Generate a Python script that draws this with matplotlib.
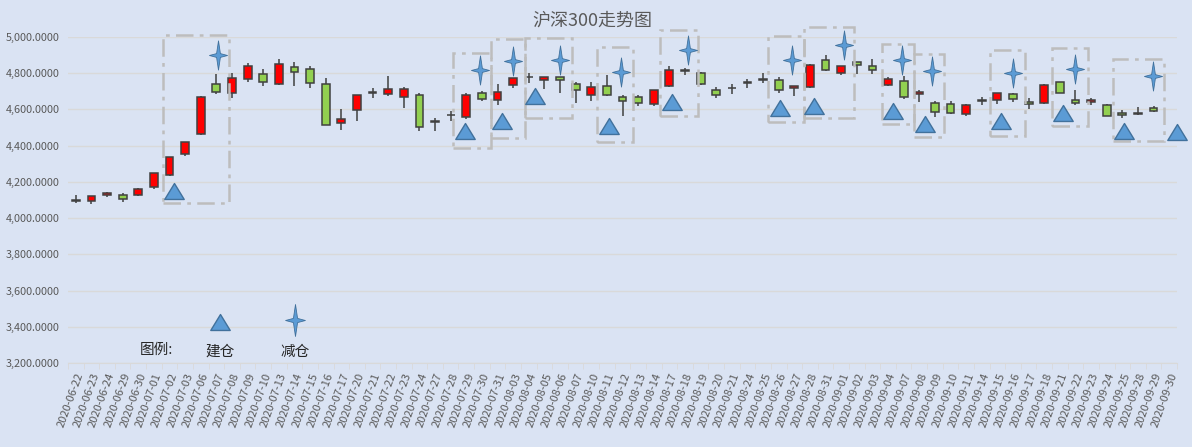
import numpy as np
import matplotlib
matplotlib.use('Agg')
import matplotlib.pyplot as plt
from matplotlib.path import Path
from matplotlib.patches import Rectangle
from matplotlib.ticker import FuncFormatter

plt.rcParams['font.family'] = ['Noto Sans CJK SC', 'DejaVu Sans']

dates = ['2020-06-22', '2020-06-23', '2020-06-24', '2020-06-29', '2020-06-30',
         '2020-07-01', '2020-07-02', '2020-07-03', '2020-07-06', '2020-07-07',
         '2020-07-08', '2020-07-09', '2020-07-10', '2020-07-13', '2020-07-14',
         '2020-07-15', '2020-07-16', '2020-07-17', '2020-07-20', '2020-07-21',
         '2020-07-22', '2020-07-23', '2020-07-24', '2020-07-27', '2020-07-28',
         '2020-07-29', '2020-07-30', '2020-07-31', '2020-08-03', '2020-08-04',
         '2020-08-05', '2020-08-06', '2020-08-07', '2020-08-10', '2020-08-11',
         '2020-08-12', '2020-08-13', '2020-08-14', '2020-08-17', '2020-08-18',
         '2020-08-19', '2020-08-20', '2020-08-21', '2020-08-24', '2020-08-25',
         '2020-08-26', '2020-08-27', '2020-08-28', '2020-08-31', '2020-09-01',
         '2020-09-02', '2020-09-03', '2020-09-04', '2020-09-07', '2020-09-08',
         '2020-09-09', '2020-09-10', '2020-09-11', '2020-09-14', '2020-09-15',
         '2020-09-16', '2020-09-17', '2020-09-18', '2020-09-21', '2020-09-22',
         '2020-09-23', '2020-09-24', '2020-09-25', '2020-09-28', '2020-09-29',
         '2020-09-30']

nan = np.nan
opens = [4097, 4092, 4125, 4126, 4126, 4171, 4237, 4353, 4463, 4739,
         4689, 4766, 4794, 4739, 4833, 4822, 4739, 4524, 4595, 4692,
         4684, 4669, 4678, 4532, 4567, 4557, 4689, 4651, 4733, 4777,
         4763, 4778, 4739, 4680, 4728, 4669, 4669, 4629, 4730, 4811,
         4803, 4706, 4716, 4744, 4765, 4761, 4717, 4724, 4871, 4800,
         4860, 4838, 4733, 4755, 4684, 4634, 4630, 4575, 4648, 4651,
         4684, 4640, 4634, 4750, 4651, 4640, 4623, 4579, 4576, 4606, nan]
highs = [4125, 4122, 4143, 4137, 4169, 4250, 4336, 4420, 4676, 4794,
         4800, 4857, 4823, 4879, 4860, 4838, 4772, 4601, 4680, 4717,
         4787, 4726, 4689, 4555, 4592, 4689, 4702, 4739, 4772, 4803,
         4779, 4781, 4750, 4754, 4789, 4678, 4678, 4706, 4838, 4827,
         4805, 4724, 4739, 4766, 4800, 4781, 4729, 4849, 4901, 4839,
         4861, 4879, 4778, 4787, 4706, 4647, 4645, 4630, 4669, 4689,
         4689, 4662, 4739, 4751, 4706, 4665, 4630, 4597, 4614, 4619, nan]
lows = [4086, 4077, 4119, 4088, 4124, 4158, 4235, 4345, 4460, 4687,
        4665, 4754, 4731, 4737, 4728, 4720, 4512, 4485, 4537, 4665,
        4674, 4606, 4481, 4481, 4537, 4548, 4647, 4625, 4717, 4744,
        4713, 4689, 4634, 4647, 4676, 4562, 4621, 4619, 4722, 4790,
        4737, 4662, 4684, 4717, 4744, 4689, 4676, 4717, 4814, 4790,
        4794, 4798, 4728, 4658, 4641, 4557, 4575, 4564, 4627, 4630,
        4640, 4605, 4630, 4690, 4625, 4625, 4563, 4551, 4570, 4584, nan]
closes = [4098, 4121, 4138, 4108, 4160, 4248, 4336, 4419, 4667, 4695,
          4772, 4838, 4750, 4849, 4805, 4744, 4514, 4546, 4678, 4695,
          4711, 4711, 4502, 4534, 4569, 4678, 4658, 4695, 4772, 4779,
          4778, 4761, 4706, 4724, 4678, 4645, 4634, 4706, 4816, 4818,
          4739, 4678, 4718, 4754, 4767, 4706, 4728, 4844, 4816, 4838,
          4844, 4816, 4766, 4669, 4695, 4586, 4579, 4625, 4650, 4689,
          4656, 4630, 4733, 4691, 4634, 4651, 4564, 4568, 4578, 4592, nan]

# trade signals: position on the date axis (fractional index) and price level
buy_pos = [6.29, 24.92, 27.29, 29.40, 34.13, 38.14, 45.08, 47.26, 52.32,
           54.34, 59.22, 63.20, 67.11, 70.49]
buy_val = [4149, 4481, 4536, 4674, 4510, 4641, 4608, 4619, 4591,
           4521, 4536, 4580, 4481, 4477]
sell_pos = [9.12, 25.90, 28.02, 31.00, 34.90, 39.19, 45.85, 49.15, 52.90,
            54.82, 59.99, 63.94, 68.98]
sell_val = [4901, 4818, 4867, 4873, 4807, 4927, 4871, 4956, 4873,
            4812, 4799, 4823, 4785]

# highlighted windows: x range on the date axis and price range
box_x0 = [5.60, 24.17, 26.60, 28.76, 33.39, 37.38, 44.33, 46.62, 51.63, 53.66, 58.51, 62.48, 66.42]
box_x1 = [9.81, 26.60, 28.76, 31.79, 35.69, 39.85, 46.62, 49.82, 53.66, 55.58, 60.77, 64.82, 69.67]
box_y0 = [4081, 4385, 4440, 4554, 4418, 4565, 4529, 4551, 4521, 4449, 4455, 4508, 4425]
box_y1 = [5011, 4910, 4987, 4993, 4943, 5039, 5007, 5057, 4960, 4904, 4928, 4938, 4877]

bg = '#DAE3F3'
txt = '#595959'
up_col = '#FF0000'
down_col = '#92D050'
mark_fill = '#5B9BD5'
mark_edge = '#41719C'

tri = Path([(-1, -0.82), (1, -0.82), (0, 0.82), (-1, -0.82)],
           [Path.MOVETO, Path.LINETO, Path.LINETO, Path.CLOSEPOLY])
star = Path([(0, 1), (0.13, 0.13), (0.62, 0), (0.13, -0.13), (0, -1),
             (-0.13, -0.13), (-0.62, 0), (-0.13, 0.13), (0, 1)],
            [Path.MOVETO] + [Path.LINETO] * 7 + [Path.CLOSEPOLY])

fig = plt.figure(figsize=(11.92, 4.47), dpi=100, facecolor=bg)
ax = fig.add_axes([68 / 1192, 84 / 447, 1109 / 1192, 326 / 447])
ax.set_facecolor(bg)

x = np.arange(len(dates))
o = np.array(opens, dtype=float)
h = np.array(highs, dtype=float)
l = np.array(lows, dtype=float)
c = np.array(closes, dtype=float)
ok = ~np.isnan(o)

ax.vlines(x[ok], l[ok], h[ok], color='#404040', lw=1.1, zorder=2)
bottom = np.minimum(o, c)
height = np.maximum(np.abs(c - o), 1.5)
colors = [up_col if cc >= oo else down_col for oo, cc in zip(o, c)]
ax.bar(x[ok], height[ok], bottom=bottom[ok], width=0.5,
       color=np.array(colors)[ok], edgecolor='#404040', linewidth=1.1, zorder=3)

for x0, x1, y0, y1 in zip(box_x0, box_x1, box_y0, box_y1):
    ax.add_patch(Rectangle((x0, y0), x1 - x0, y1 - y0, fill=False,
                           edgecolor='#BDBDBD', lw=1.8,
                           linestyle=(0, (7, 2.5, 1.5, 2.5)),
                           clip_on=False, zorder=4))

ax.plot(buy_pos, buy_val, linestyle='none', marker=tri, markersize=14,
        markerfacecolor=mark_fill, markeredgecolor=mark_edge,
        markeredgewidth=1, clip_on=False, zorder=5)
ax.plot(sell_pos, sell_val, linestyle='none', marker=star, markersize=21,
        markerfacecolor=mark_fill, markeredgecolor=mark_edge,
        markeredgewidth=0.6, clip_on=False, zorder=5)

# legend drawn inside the plot area like the original
ax.plot([9.24], [3425], linestyle='none', marker=tri, markersize=14,
        markerfacecolor=mark_fill, markeredgecolor=mark_edge, markeredgewidth=1)
ax.plot([14.04], [3440], linestyle='none', marker=star, markersize=23,
        markerfacecolor=mark_fill, markeredgecolor=mark_edge, markeredgewidth=0.6)
ax.text(5.15, 3272, '图例:', fontsize=10.5, color='#262626', ha='center', va='center')
ax.text(9.24, 3262, '建仓', fontsize=10.5, color='#262626', ha='center', va='center')
ax.text(14.04, 3262, '减仓', fontsize=10.5, color='#262626', ha='center', va='center')

ax.set_xlim(-0.5, len(dates) - 0.5)
ax.set_ylim(3200, 5000)
ax.set_yticks(np.arange(3200, 5001, 200))
ax.yaxis.set_major_formatter(FuncFormatter(lambda v, p: f'{v:,.4f}'))
ax.grid(axis='y', color='#D9D9D9', lw=1)
ax.set_axisbelow(True)

ax.set_xticks(x)
ax.set_xticklabels(dates, rotation=70, ha='right', va='top',
                   rotation_mode='anchor', fontsize=8, color=txt)
ax.set_xticks(np.arange(-0.5, len(dates), 1), minor=True)
ax.tick_params(axis='x', which='major', length=0, pad=6)
ax.tick_params(axis='x', which='minor', length=4, color='#D9D9D9')
ax.tick_params(axis='y', length=0, labelsize=7.8, labelcolor=txt, pad=6)

for side in ['top', 'right', 'left']:
    ax.spines[side].set_visible(False)
ax.spines['bottom'].set_color('#D9D9D9')

fig.text(0.497, 0.955, '沪深300走势图', fontsize=13, color=txt, ha='center', va='center')

fig.savefig('out.png', dpi=100, facecolor=bg)
